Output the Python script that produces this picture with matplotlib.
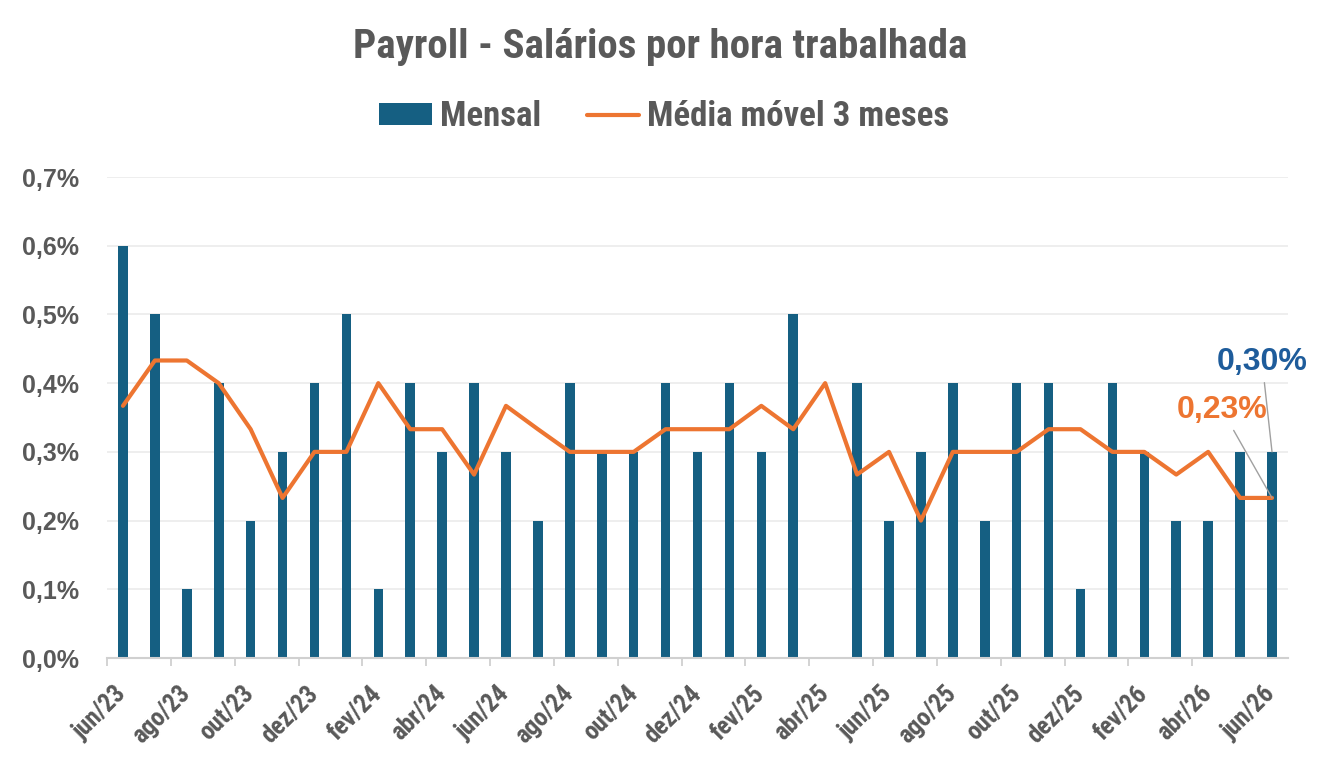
import matplotlib
matplotlib.use("Agg")
import matplotlib.pyplot as plt
from matplotlib import font_manager as fm
from matplotlib.ticker import FixedLocator

# ---------------- data ----------------
months = ["jun/23", "jul/23", "ago/23", "set/23", "out/23", "nov/23", "dez/23",
          "jan/24", "fev/24", "mar/24", "abr/24", "mai/24", "jun/24", "jul/24",
          "ago/24", "set/24", "out/24", "nov/24", "dez/24", "jan/25", "fev/25",
          "mar/25", "abr/25", "mai/25", "jun/25", "jul/25", "ago/25", "set/25",
          "out/25", "nov/25", "dez/25", "jan/26", "fev/26", "mar/26", "abr/26",
          "mai/26", "jun/26"]
mensal = [0.6, 0.5, 0.1, 0.4, 0.2, 0.3, 0.4, 0.5, 0.1, 0.4, 0.3, 0.4, 0.3, 0.2,
          0.4, 0.3, 0.3, 0.4, 0.3, 0.4, 0.3, 0.5, 0.0, 0.4, 0.2, 0.3, 0.4, 0.2,
          0.4, 0.4, 0.1, 0.4, 0.3, 0.2, 0.2, 0.3, 0.3]
media_movel = [0.367, 0.433, 0.433, 0.400, 0.333, 0.233, 0.300, 0.300, 0.400,
               0.333, 0.333, 0.267, 0.367, 0.333, 0.300, 0.300, 0.300, 0.333,
               0.333, 0.333, 0.367, 0.333, 0.400, 0.267, 0.300, 0.200, 0.300,
               0.300, 0.300, 0.333, 0.333, 0.300, 0.300, 0.267, 0.300, 0.233,
               0.233]
yticks = [0.0, 0.1, 0.2, 0.3, 0.4, 0.5, 0.6, 0.7]

# ---------------- style ----------------
BLUE = "#155F82"
ORANGE = "#ED7531"
LABEL_BLUE = "#1E5C9B"
GRAY = "#595959"

available = {f.name for f in fm.fontManager.ttflist}
cond = None
for cand in ["Liberation Sans Narrow", "Roboto Condensed", "Open Sans Condensed"]:
    if cand in available:
        cond = cand
        break
if cond is None:
    cond_kw = dict(family=["DejaVu Sans"], stretch="condensed")
else:
    cond_kw = dict(family=[cond, "DejaVu Sans"])
ARIAL = ["Liberation Sans", "DejaVu Sans"]

fig = plt.figure(figsize=(13.21, 7.68), dpi=100)
ax = fig.add_axes([0.081, 0.1432, 0.894, 0.6263])

x = list(range(len(months)))
bars = ax.bar(x, mensal, width=0.3, color=BLUE, zorder=2, label="Mensal")
line, = ax.plot(x, media_movel, color=ORANGE, lw=3.0, solid_joinstyle="round",
                solid_capstyle="round", zorder=3, label="Média móvel 3 meses")

ax.set_xlim(-0.5, len(months) - 0.5)
ax.set_ylim(0, 0.7)
ax.set_yticks(yticks)
ax.set_yticklabels([f"{v:.1f}%".replace(".", ",") for v in yticks],
                   fontweight="bold", fontsize=18, color=GRAY, family=ARIAL)
ax.tick_params(axis="y", length=0, pad=20)
ax.grid(axis="y", color="#EBEBEB", lw=1.2, zorder=0)

# x ticks: labels every 2 months, tick marks between categories
major = x[::2]
ax.set_xticks(major)
ax.set_xticklabels([months[i] for i in major], rotation=45, ha="right",
                   va="center", rotation_mode="anchor", fontsize=18,
                   fontweight="bold", color=GRAY, **cond_kw)
ax.tick_params(axis="x", which="major", length=0, pad=23)
ax.xaxis.set_minor_locator(FixedLocator([i - 0.5 for i in major[:-1]]))
ax.tick_params(axis="x", which="minor", length=6, width=1.3, color="#D0D0D0")

for s in ["top", "right", "left"]:
    ax.spines[s].set_visible(False)
ax.spines["bottom"].set_color("#D0D0D0")
ax.spines["bottom"].set_linewidth(1.5)
ax.spines["bottom"].set_zorder(4)

# annotations for last values
last = len(months) - 1
ax.annotate(f"{mensal[last]:.2f}%".replace(".", ","), xy=(last, mensal[last]),
            xytext=(last - 0.31, 0.419), textcoords="data",
            ha="center", va="baseline", fontsize=23, fontweight="bold",
            color=LABEL_BLUE, family=ARIAL,
            arrowprops=dict(arrowstyle="-", color="#A0A0A0", lw=1.0,
                            shrinkA=2, shrinkB=0), zorder=5)
ax.annotate(f"{media_movel[last]:.2f}%".replace(".", ","),
            xy=(last, media_movel[last]),
            xytext=(last - 1.56, 0.349), textcoords="data",
            ha="center", va="baseline", fontsize=23, fontweight="bold",
            color=ORANGE, family=ARIAL,
            arrowprops=dict(arrowstyle="-", color="#A0A0A0", lw=1.0,
                            shrinkA=2, shrinkB=0), zorder=5)

fig.text(0.5, 0.939, "Payroll - Salários por hora trabalhada", ha="center",
         va="center", fontsize=29.5, fontweight="bold", color=GRAY, **cond_kw)

leg = fig.legend(handles=[bars, line], loc="center",
                 bbox_to_anchor=(0.503, 0.848), ncol=2,
                 frameon=False, handlelength=1.5, handleheight=0.6,
                 handletextpad=0.25, columnspacing=1.3,
                 prop=dict(size=25, weight="bold", **cond_kw))
for t in leg.get_texts():
    t.set_color(GRAY)

fig.savefig("out.png", dpi=100)
